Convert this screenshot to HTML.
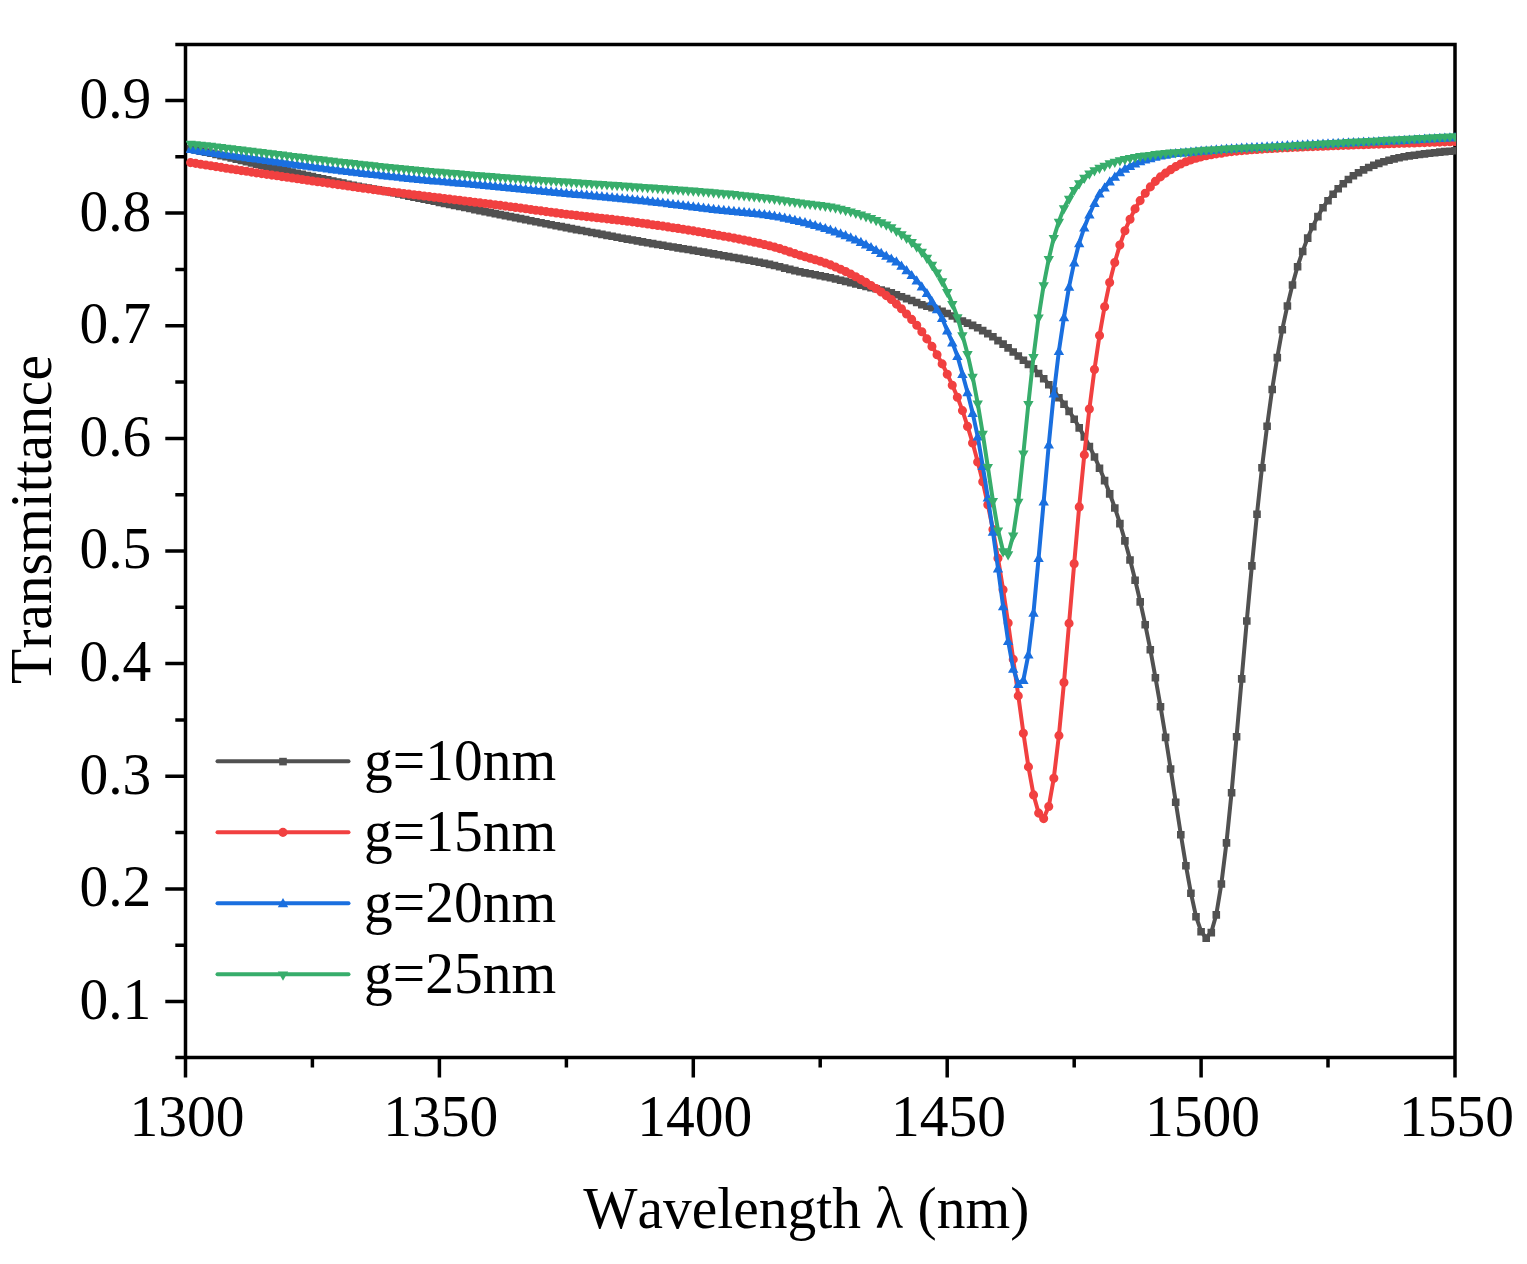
<!DOCTYPE html>
<html lang="en"><head><meta charset="utf-8"><title>Transmittance vs Wavelength</title>
<style>
html,body{margin:0;padding:0;background:#fff}
body{width:1527px;height:1264px;overflow:hidden}
svg{display:block}
text{font-family:"Liberation Serif","Times New Roman",serif;font-size:57.5px;fill:#000;font-kerning:none;font-variant-ligatures:none}
</style></head><body>
<svg width="1527" height="1264" viewBox="0 0 1527 1264">
<rect width="1527" height="1264" fill="#fff"/>
<clipPath id="plot"><rect x="186" y="44.5" width="1270" height="1013"/></clipPath>
<path d="M185.5 42.75V1059.25M1455.0 42.75V1059.25M183.75 44.5H1456.75M183.75 1057.5H1456.75M185.5 1001.5H165.3M185.5 888.9H165.3M185.5 776.2H165.3M185.5 663.6H165.3M185.5 551H165.3M185.5 438.4H165.3M185.5 325.8H165.3M185.5 213.1H165.3M185.5 100.5H165.3M185.5 1057.5H175.3M185.5 945.2H175.3M185.5 832.6H175.3M185.5 719.9H175.3M185.5 607.3H175.3M185.5 494.7H175.3M185.5 382.1H175.3M185.5 269.4H175.3M185.5 156.8H175.3M185.5 44.5H175.3M185.5 1057.5V1077.5M439.4 1057.5V1077.5M693.3 1057.5V1077.5M947.2 1057.5V1077.5M1201.1 1057.5V1077.5M1455 1057.5V1077.5M312.4 1057.5V1067.5M566.4 1057.5V1067.5M820.2 1057.5V1067.5M1074.2 1057.5V1067.5M1328 1057.5V1067.5" fill="none" stroke="#000" stroke-width="3.5"/>
<g text-anchor="end">
<text transform="translate(151.3 1018.9) scale(1 1.02)">0.1</text>
<text transform="translate(151.3 906.3) scale(1 1.02)">0.2</text>
<text transform="translate(151.3 793.6) scale(1 1.02)">0.3</text>
<text transform="translate(151.3 681) scale(1 1.02)">0.4</text>
<text transform="translate(151.3 568.4) scale(1 1.02)">0.5</text>
<text transform="translate(151.3 455.8) scale(1 1.02)">0.6</text>
<text transform="translate(151.3 343.1) scale(1 1.02)">0.7</text>
<text transform="translate(151.3 230.5) scale(1 1.02)">0.8</text>
<text transform="translate(151.3 117.9) scale(1 1.02)">0.9</text>
</g>
<g text-anchor="middle">
<text transform="translate(186.9 1136) scale(1 1.02)">1300</text>
<text transform="translate(440.8 1136) scale(1 1.02)">1350</text>
<text transform="translate(694.7 1136) scale(1 1.02)">1400</text>
<text transform="translate(948.6 1136) scale(1 1.02)">1450</text>
<text transform="translate(1202.5 1136) scale(1 1.02)">1500</text>
<text transform="translate(1456.4 1136) scale(1 1.02)">1550</text>
<text transform="translate(806.3 1227.8) scale(1 1.015)">Wavelength λ (nm)</text>
<text transform="translate(51.3 519.5) rotate(-90) scale(1 1.015)">Transmittance</text>
</g>
<g clip-path="url(#plot)">
<path d="M190.6 148.5L195.7 149.6L200.7 150.7L205.8 151.7L210.9 152.8L216 154L221 155.2L226.1 156.4L231.2 157.6L236.3 158.9L241.4 160.1L246.4 161.3L251.5 162.5L256.6 163.7L261.7 164.8L266.7 166L271.8 167.1L276.9 168.2L282 169.4L287.1 170.5L292.1 171.6L297.2 172.8L302.3 173.9L307.4 175.1L312.4 176.2L317.5 177.3L322.6 178.4L327.7 179.5L332.8 180.6L337.8 181.7L342.9 182.7L348 183.8L353.1 184.8L358.2 185.8L363.2 186.8L368.3 187.7L373.4 188.6L378.5 189.5L383.5 190.4L388.6 191.4L393.7 192.4L398.8 193.5L403.9 194.6L408.9 195.7L414 196.7L419.1 197.8L424.2 198.8L429.2 199.9L434.3 200.9L439.4 202L444.5 203L449.6 204L454.6 205.1L459.7 206.1L464.8 207.1L469.9 208.1L474.9 209.2L480 210.2L485.1 211.2L490.2 212.2L495.3 213.2L500.3 214.2L505.4 215.2L510.5 216.2L515.6 217.2L520.6 218.2L525.7 219.2L530.8 220.3L535.9 221.3L541 222.3L546 223.3L551.1 224.3L556.2 225.3L561.3 226.2L566.4 227.2L571.4 228.2L576.5 229.2L581.6 230.1L586.7 231.1L591.7 232.1L596.8 233L601.9 234L607 235L612.1 235.9L617.1 236.8L622.2 237.8L627.3 238.7L632.4 239.6L637.4 240.5L642.5 241.5L647.6 242.3L652.7 243.2L657.8 244.1L662.8 244.9L667.9 245.8L673 246.6L678.1 247.5L683.1 248.3L688.2 249.1L693.3 250L698.4 250.8L703.5 251.7L708.5 252.6L713.6 253.5L718.7 254.4L723.8 255.3L728.8 256.2L733.9 257.1L739 258L744.1 259L749.2 259.9L754.2 260.9L759.3 261.9L764.4 262.9L769.5 264L774.5 265.1L779.6 266.4L784.7 267.7L789.8 269L794.9 270.2L799.9 271.4L805 272.5L810.1 273.4L815.2 274.4L820.2 275.4L825.3 276.3L830.4 277.4L835.5 278.6L840.6 279.8L845.6 281L850.7 282.3L855.8 283.6L860.9 284.8L866 286.1L871 287.2L876.1 288.4L881.2 289.6L886.3 291L891.3 292.5L896.4 294.4L901.5 296.3L906.6 298.2L911.7 300.1L916.7 302.1L921.8 304.3L926.9 305.9L932 307.4L937 308.9L942.1 310.8L947.2 313.1L952.3 315.6L957.4 318.3L962.4 320.7L967.5 322.7L972.6 325L977.7 327.4L982.7 330.2L987.8 333.2L992.9 336.3L998 340.2L1003.1 343.7L1008.1 347.5L1013.2 351.6L1018.3 355.6L1023.4 359.8L1028.4 364L1033.5 368.4L1038.6 373.1L1043.7 378.4L1048.8 384.4L1053.8 390.6L1058.9 397.3L1064 403.8L1069.1 411L1074.2 418.8L1079.2 427.5L1084.3 436.5L1089.4 446.1L1094.5 456.6L1099.5 467.8L1104.6 480.2L1109.7 493.5L1114.8 507.6L1119.9 523.2L1124.9 540.5L1130 559.6L1135.1 579.8L1140.2 601.5L1145.2 624.4L1150.3 649.4L1155.4 677.4L1160.5 706.4L1165.6 737L1170.6 768.6L1175.7 801.8L1180.8 834.3L1185.9 865.4L1190.9 892.8L1196 916.4L1201.1 931.4L1206.2 937.9L1211.3 932.2L1216.3 914.5L1221.4 883.6L1226.5 842.5L1231.6 792.3L1236.6 736.4L1241.7 678.5L1246.8 620.6L1251.9 565.5L1257 513.9L1262 467.4L1267.1 425.9L1272.2 389.1L1277.3 357.2L1282.3 329.4L1287.4 305.6L1292.5 284.6L1297.6 266.3L1302.7 251.1L1307.7 237.7L1312.8 226.3L1317.9 216.2L1323 207.3L1328 200.3L1333.1 193.8L1338.2 188.3L1343.3 183.4L1348.4 179.1L1353.4 175.4L1358.5 172.3L1363.6 169.5L1368.7 167.1L1373.8 164.9L1378.8 163L1383.9 161.3L1389 159.8L1394.1 158.5L1399.1 157.3L1404.2 156.4L1409.3 155.5L1414.4 154.8L1419.5 154.1L1424.5 153.5L1429.6 152.8L1434.7 152.3L1439.8 151.7L1444.8 151.2L1449.9 150.8L1455 150.4" fill="none" stroke="#515151" stroke-width="4" stroke-linejoin="round"/>
<path d="M186.8 145.1h7.6v7.6h-7.6zM191.9 146.2h7.6v7.6h-7.6zM196.9 147.3h7.6v7.6h-7.6zM202 148.3h7.6v7.6h-7.6zM207.1 149.4h7.6v7.6h-7.6zM212.2 150.6h7.6v7.6h-7.6zM217.2 151.8h7.6v7.6h-7.6zM222.3 153h7.6v7.6h-7.6zM227.4 154.2h7.6v7.6h-7.6zM232.5 155.5h7.6v7.6h-7.6zM237.6 156.7h7.6v7.6h-7.6zM242.6 157.9h7.6v7.6h-7.6zM247.7 159.1h7.6v7.6h-7.6zM252.8 160.3h7.6v7.6h-7.6zM257.9 161.4h7.6v7.6h-7.6zM262.9 162.6h7.6v7.6h-7.6zM268 163.7h7.6v7.6h-7.6zM273.1 164.8h7.6v7.6h-7.6zM278.2 166h7.6v7.6h-7.6zM283.3 167.1h7.6v7.6h-7.6zM288.3 168.2h7.6v7.6h-7.6zM293.4 169.4h7.6v7.6h-7.6zM298.5 170.5h7.6v7.6h-7.6zM303.6 171.7h7.6v7.6h-7.6zM308.6 172.8h7.6v7.6h-7.6zM313.7 173.9h7.6v7.6h-7.6zM318.8 175h7.6v7.6h-7.6zM323.9 176.1h7.6v7.6h-7.6zM329 177.2h7.6v7.6h-7.6zM334 178.3h7.6v7.6h-7.6zM339.1 179.3h7.6v7.6h-7.6zM344.2 180.4h7.6v7.6h-7.6zM349.3 181.4h7.6v7.6h-7.6zM354.4 182.4h7.6v7.6h-7.6zM359.4 183.4h7.6v7.6h-7.6zM364.5 184.3h7.6v7.6h-7.6zM369.6 185.2h7.6v7.6h-7.6zM374.7 186.1h7.6v7.6h-7.6zM379.7 187h7.6v7.6h-7.6zM384.8 188h7.6v7.6h-7.6zM389.9 189h7.6v7.6h-7.6zM395 190.1h7.6v7.6h-7.6zM400.1 191.2h7.6v7.6h-7.6zM405.1 192.3h7.6v7.6h-7.6zM410.2 193.3h7.6v7.6h-7.6zM415.3 194.4h7.6v7.6h-7.6zM420.4 195.4h7.6v7.6h-7.6zM425.4 196.5h7.6v7.6h-7.6zM430.5 197.5h7.6v7.6h-7.6zM435.6 198.6h7.6v7.6h-7.6zM440.7 199.6h7.6v7.6h-7.6zM445.8 200.6h7.6v7.6h-7.6zM450.8 201.7h7.6v7.6h-7.6zM455.9 202.7h7.6v7.6h-7.6zM461 203.7h7.6v7.6h-7.6zM466.1 204.7h7.6v7.6h-7.6zM471.1 205.8h7.6v7.6h-7.6zM476.2 206.8h7.6v7.6h-7.6zM481.3 207.8h7.6v7.6h-7.6zM486.4 208.8h7.6v7.6h-7.6zM491.5 209.8h7.6v7.6h-7.6zM496.5 210.8h7.6v7.6h-7.6zM501.6 211.8h7.6v7.6h-7.6zM506.7 212.8h7.6v7.6h-7.6zM511.8 213.8h7.6v7.6h-7.6zM516.8 214.8h7.6v7.6h-7.6zM521.9 215.8h7.6v7.6h-7.6zM527 216.9h7.6v7.6h-7.6zM532.1 217.9h7.6v7.6h-7.6zM537.2 218.9h7.6v7.6h-7.6zM542.2 219.9h7.6v7.6h-7.6zM547.3 220.9h7.6v7.6h-7.6zM552.4 221.9h7.6v7.6h-7.6zM557.5 222.8h7.6v7.6h-7.6zM562.6 223.8h7.6v7.6h-7.6zM567.6 224.8h7.6v7.6h-7.6zM572.7 225.8h7.6v7.6h-7.6zM577.8 226.7h7.6v7.6h-7.6zM582.9 227.7h7.6v7.6h-7.6zM587.9 228.7h7.6v7.6h-7.6zM593 229.6h7.6v7.6h-7.6zM598.1 230.6h7.6v7.6h-7.6zM603.2 231.6h7.6v7.6h-7.6zM608.3 232.5h7.6v7.6h-7.6zM613.3 233.4h7.6v7.6h-7.6zM618.4 234.4h7.6v7.6h-7.6zM623.5 235.3h7.6v7.6h-7.6zM628.6 236.2h7.6v7.6h-7.6zM633.6 237.1h7.6v7.6h-7.6zM638.7 238.1h7.6v7.6h-7.6zM643.8 238.9h7.6v7.6h-7.6zM648.9 239.8h7.6v7.6h-7.6zM654 240.7h7.6v7.6h-7.6zM659 241.5h7.6v7.6h-7.6zM664.1 242.4h7.6v7.6h-7.6zM669.2 243.2h7.6v7.6h-7.6zM674.3 244.1h7.6v7.6h-7.6zM679.3 244.9h7.6v7.6h-7.6zM684.4 245.7h7.6v7.6h-7.6zM689.5 246.6h7.6v7.6h-7.6zM694.6 247.4h7.6v7.6h-7.6zM699.7 248.3h7.6v7.6h-7.6zM704.7 249.2h7.6v7.6h-7.6zM709.8 250.1h7.6v7.6h-7.6zM714.9 251h7.6v7.6h-7.6zM720 251.9h7.6v7.6h-7.6zM725 252.8h7.6v7.6h-7.6zM730.1 253.7h7.6v7.6h-7.6zM735.2 254.6h7.6v7.6h-7.6zM740.3 255.6h7.6v7.6h-7.6zM745.4 256.5h7.6v7.6h-7.6zM750.4 257.5h7.6v7.6h-7.6zM755.5 258.5h7.6v7.6h-7.6zM760.6 259.5h7.6v7.6h-7.6zM765.7 260.6h7.6v7.6h-7.6zM770.7 261.7h7.6v7.6h-7.6zM775.8 263h7.6v7.6h-7.6zM780.9 264.3h7.6v7.6h-7.6zM786 265.6h7.6v7.6h-7.6zM791.1 266.8h7.6v7.6h-7.6zM796.1 268h7.6v7.6h-7.6zM801.2 269.1h7.6v7.6h-7.6zM806.3 270h7.6v7.6h-7.6zM811.4 271h7.6v7.6h-7.6zM816.5 272h7.6v7.6h-7.6zM821.5 272.9h7.6v7.6h-7.6zM826.6 274h7.6v7.6h-7.6zM831.7 275.2h7.6v7.6h-7.6zM836.8 276.4h7.6v7.6h-7.6zM841.8 277.6h7.6v7.6h-7.6zM846.9 278.9h7.6v7.6h-7.6zM852 280.2h7.6v7.6h-7.6zM857.1 281.4h7.6v7.6h-7.6zM862.2 282.7h7.6v7.6h-7.6zM867.2 283.8h7.6v7.6h-7.6zM872.3 285h7.6v7.6h-7.6zM877.4 286.2h7.6v7.6h-7.6zM882.5 287.6h7.6v7.6h-7.6zM887.5 289.1h7.6v7.6h-7.6zM892.6 291h7.6v7.6h-7.6zM897.7 292.9h7.6v7.6h-7.6zM902.8 294.8h7.6v7.6h-7.6zM907.9 296.7h7.6v7.6h-7.6zM912.9 298.7h7.6v7.6h-7.6zM918 300.9h7.6v7.6h-7.6zM923.1 302.5h7.6v7.6h-7.6zM928.2 304h7.6v7.6h-7.6zM933.2 305.5h7.6v7.6h-7.6zM938.3 307.4h7.6v7.6h-7.6zM943.4 309.7h7.6v7.6h-7.6zM948.5 312.2h7.6v7.6h-7.6zM953.6 314.9h7.6v7.6h-7.6zM958.6 317.3h7.6v7.6h-7.6zM963.7 319.3h7.6v7.6h-7.6zM968.8 321.6h7.6v7.6h-7.6zM973.9 324h7.6v7.6h-7.6zM978.9 326.8h7.6v7.6h-7.6zM984 329.8h7.6v7.6h-7.6zM989.1 332.9h7.6v7.6h-7.6zM994.2 336.8h7.6v7.6h-7.6zM999.3 340.3h7.6v7.6h-7.6zM1004.3 344.1h7.6v7.6h-7.6zM1009.4 348.2h7.6v7.6h-7.6zM1014.5 352.2h7.6v7.6h-7.6zM1019.6 356.4h7.6v7.6h-7.6zM1024.6 360.6h7.6v7.6h-7.6zM1029.7 365h7.6v7.6h-7.6zM1034.8 369.7h7.6v7.6h-7.6zM1039.9 375h7.6v7.6h-7.6zM1045 381h7.6v7.6h-7.6zM1050 387.2h7.6v7.6h-7.6zM1055.1 393.9h7.6v7.6h-7.6zM1060.2 400.4h7.6v7.6h-7.6zM1065.3 407.6h7.6v7.6h-7.6zM1070.4 415.4h7.6v7.6h-7.6zM1075.4 424.1h7.6v7.6h-7.6zM1080.5 433.1h7.6v7.6h-7.6zM1085.6 442.7h7.6v7.6h-7.6zM1090.7 453.2h7.6v7.6h-7.6zM1095.7 464.4h7.6v7.6h-7.6zM1100.8 476.8h7.6v7.6h-7.6zM1105.9 490.1h7.6v7.6h-7.6zM1111 504.2h7.6v7.6h-7.6zM1116.1 519.8h7.6v7.6h-7.6zM1121.1 537.1h7.6v7.6h-7.6zM1126.2 556.2h7.6v7.6h-7.6zM1131.3 576.4h7.6v7.6h-7.6zM1136.4 598.1h7.6v7.6h-7.6zM1141.4 621h7.6v7.6h-7.6zM1146.5 646h7.6v7.6h-7.6zM1151.6 674h7.6v7.6h-7.6zM1156.7 703h7.6v7.6h-7.6zM1161.8 733.6h7.6v7.6h-7.6zM1166.8 765.2h7.6v7.6h-7.6zM1171.9 798.4h7.6v7.6h-7.6zM1177 830.9h7.6v7.6h-7.6zM1182.1 862h7.6v7.6h-7.6zM1187.1 889.4h7.6v7.6h-7.6zM1192.2 913h7.6v7.6h-7.6zM1197.3 928h7.6v7.6h-7.6zM1202.4 934.5h7.6v7.6h-7.6zM1207.5 928.8h7.6v7.6h-7.6zM1212.5 911.1h7.6v7.6h-7.6zM1217.6 880.2h7.6v7.6h-7.6zM1222.7 839.1h7.6v7.6h-7.6zM1227.8 788.9h7.6v7.6h-7.6zM1232.8 733h7.6v7.6h-7.6zM1237.9 675.1h7.6v7.6h-7.6zM1243 617.2h7.6v7.6h-7.6zM1248.1 562.1h7.6v7.6h-7.6zM1253.2 510.5h7.6v7.6h-7.6zM1258.2 464h7.6v7.6h-7.6zM1263.3 422.5h7.6v7.6h-7.6zM1268.4 385.7h7.6v7.6h-7.6zM1273.5 353.8h7.6v7.6h-7.6zM1278.5 326h7.6v7.6h-7.6zM1283.6 302.2h7.6v7.6h-7.6zM1288.7 281.2h7.6v7.6h-7.6zM1293.8 262.9h7.6v7.6h-7.6zM1298.9 247.7h7.6v7.6h-7.6zM1303.9 234.3h7.6v7.6h-7.6zM1309 222.9h7.6v7.6h-7.6zM1314.1 212.8h7.6v7.6h-7.6zM1319.2 203.9h7.6v7.6h-7.6zM1324.2 196.9h7.6v7.6h-7.6zM1329.3 190.4h7.6v7.6h-7.6zM1334.4 184.9h7.6v7.6h-7.6zM1339.5 180h7.6v7.6h-7.6zM1344.6 175.7h7.6v7.6h-7.6zM1349.6 172h7.6v7.6h-7.6zM1354.7 168.9h7.6v7.6h-7.6zM1359.8 166.1h7.6v7.6h-7.6zM1364.9 163.7h7.6v7.6h-7.6zM1370 161.5h7.6v7.6h-7.6zM1375 159.6h7.6v7.6h-7.6zM1380.1 157.9h7.6v7.6h-7.6zM1385.2 156.4h7.6v7.6h-7.6zM1390.3 155.1h7.6v7.6h-7.6zM1395.3 153.9h7.6v7.6h-7.6zM1400.4 153h7.6v7.6h-7.6zM1405.5 152.1h7.6v7.6h-7.6zM1410.6 151.4h7.6v7.6h-7.6zM1415.7 150.7h7.6v7.6h-7.6zM1420.7 150.1h7.6v7.6h-7.6zM1425.8 149.4h7.6v7.6h-7.6zM1430.9 148.9h7.6v7.6h-7.6zM1436 148.3h7.6v7.6h-7.6zM1441 147.8h7.6v7.6h-7.6zM1446.1 147.4h7.6v7.6h-7.6zM1451.2 147h7.6v7.6h-7.6z" fill="#515151"/>
<path d="M190.6 162.4L195.7 163.2L200.7 164L205.8 164.8L210.9 165.6L216 166.4L221 167.2L226.1 168L231.2 168.8L236.3 169.6L241.4 170.4L246.4 171.1L251.5 171.9L256.6 172.7L261.7 173.4L266.7 174.2L271.8 174.9L276.9 175.6L282 176.4L287.1 177.1L292.1 177.8L297.2 178.6L302.3 179.3L307.4 180L312.4 180.8L317.5 181.5L322.6 182.2L327.7 182.9L332.8 183.7L337.8 184.4L342.9 185.1L348 185.8L353.1 186.6L358.2 187.3L363.2 188L368.3 188.7L373.4 189.4L378.5 190.1L383.5 190.8L388.6 191.4L393.7 192L398.8 192.6L403.9 193.3L408.9 193.9L414 194.5L419.1 195.1L424.2 195.8L429.2 196.4L434.3 197L439.4 197.6L444.5 198.3L449.6 198.9L454.6 199.5L459.7 200.1L464.8 200.8L469.9 201.4L474.9 202L480 202.7L485.1 203.3L490.2 203.9L495.3 204.6L500.3 205.2L505.4 205.9L510.5 206.5L515.6 207.2L520.6 207.9L525.7 208.6L530.8 209.3L535.9 210L541 210.7L546 211.4L551.1 212L556.2 212.7L561.3 213.4L566.4 214L571.4 214.6L576.5 215.2L581.6 215.8L586.7 216.4L591.7 216.9L596.8 217.5L601.9 218.1L607 218.7L612.1 219.2L617.1 219.8L622.2 220.4L627.3 221.1L632.4 221.7L637.4 222.4L642.5 223L647.6 223.7L652.7 224.5L657.8 225.2L662.8 225.9L667.9 226.7L673 227.5L678.1 228.2L683.1 229L688.2 229.9L693.3 230.7L698.4 231.5L703.5 232.4L708.5 233.3L713.6 234.2L718.7 235.1L723.8 236L728.8 236.9L733.9 237.9L739 238.9L744.1 239.9L749.2 240.9L754.2 242L759.3 243.1L764.4 244.3L769.5 245.6L774.5 246.9L779.6 248.4L784.7 250L789.8 251.7L794.9 253.4L799.9 255L805 256.6L810.1 258.1L815.2 259.6L820.2 261.1L825.3 262.8L830.4 264.7L835.5 266.8L840.6 269L845.6 271.4L850.7 273.9L855.8 276.6L860.9 279.4L866 282.2L871 285.3L876.1 288.4L881.2 291.8L886.3 295.4L891.3 299.3L896.4 303.9L901.5 308.6L906.6 313.8L911.7 319.2L916.7 325L921.8 331.5L926.9 338.7L932 346.2L937 354.5L942.1 363.7L947.2 374L952.3 385.1L957.4 397L962.4 410.4L967.5 426.2L972.6 442.8L977.7 461.8L982.7 481.6L987.8 504.6L992.9 529.3L998 558L1003.1 589.6L1008.1 622.8L1013.2 659.2L1018.3 695.7L1023.4 733L1028.4 766.7L1033.5 794.7L1038.6 812.9L1043.7 818.4L1048.8 806.3L1053.8 778.1L1058.9 735.4L1064 682.3L1069.1 623.2L1074.2 563.5L1079.2 506.7L1084.3 454.7L1089.4 408.8L1094.5 369.3L1099.5 335.4L1104.6 306.6L1109.7 282.3L1114.8 262.3L1119.9 244.9L1124.9 230.6L1130 219.1L1135.1 208.7L1140.2 200.4L1145.2 193L1150.3 186.7L1155.4 181.2L1160.5 176.7L1165.6 172.9L1170.6 169.5L1175.7 166.4L1180.8 163.8L1185.9 161.5L1190.9 159.6L1196 158L1201.1 156.7L1206.2 155.5L1211.3 154.6L1216.3 153.7L1221.4 153L1226.5 152.1L1231.6 151.4L1236.6 150.9L1241.7 150.4L1246.8 150L1251.9 149.6L1257 149.2L1262 148.9L1267.1 148.6L1272.2 148.3L1277.3 148L1282.3 147.7L1287.4 147.5L1292.5 147.2L1297.6 147L1302.7 146.8L1307.7 146.6L1312.8 146.4L1317.9 146.2L1323 146L1328 145.8L1333.1 145.6L1338.2 145.4L1343.3 145.2L1348.4 145L1353.4 144.8L1358.5 144.6L1363.6 144.5L1368.7 144.3L1373.8 144.1L1378.8 143.9L1383.9 143.8L1389 143.6L1394.1 143.4L1399.1 143.2L1404.2 143.1L1409.3 142.9L1414.4 142.7L1419.5 142.5L1424.5 142.4L1429.6 142.2L1434.7 142L1439.8 141.9L1444.8 141.7L1449.9 141.6L1455 141.4" fill="none" stroke="#F14040" stroke-width="4" stroke-linejoin="round"/>
<path d="M186 162.6a4.55 4.55 0 1 0 9.1 0a4.55 4.55 0 1 0 -9.1 0zM191.1 163.4a4.55 4.55 0 1 0 9.1 0a4.55 4.55 0 1 0 -9.1 0zM196.2 164.2a4.55 4.55 0 1 0 9.1 0a4.55 4.55 0 1 0 -9.1 0zM201.3 165a4.55 4.55 0 1 0 9.1 0a4.55 4.55 0 1 0 -9.1 0zM206.3 165.8a4.55 4.55 0 1 0 9.1 0a4.55 4.55 0 1 0 -9.1 0zM211.4 166.6a4.55 4.55 0 1 0 9.1 0a4.55 4.55 0 1 0 -9.1 0zM216.5 167.4a4.55 4.55 0 1 0 9.1 0a4.55 4.55 0 1 0 -9.1 0zM221.6 168.2a4.55 4.55 0 1 0 9.1 0a4.55 4.55 0 1 0 -9.1 0zM226.7 169a4.55 4.55 0 1 0 9.1 0a4.55 4.55 0 1 0 -9.1 0zM231.7 169.8a4.55 4.55 0 1 0 9.1 0a4.55 4.55 0 1 0 -9.1 0zM236.8 170.6a4.55 4.55 0 1 0 9.1 0a4.55 4.55 0 1 0 -9.1 0zM241.9 171.3a4.55 4.55 0 1 0 9.1 0a4.55 4.55 0 1 0 -9.1 0zM247 172.1a4.55 4.55 0 1 0 9.1 0a4.55 4.55 0 1 0 -9.1 0zM252 172.9a4.55 4.55 0 1 0 9.1 0a4.55 4.55 0 1 0 -9.1 0zM257.1 173.6a4.55 4.55 0 1 0 9.1 0a4.55 4.55 0 1 0 -9.1 0zM262.2 174.4a4.55 4.55 0 1 0 9.1 0a4.55 4.55 0 1 0 -9.1 0zM267.3 175.1a4.55 4.55 0 1 0 9.1 0a4.55 4.55 0 1 0 -9.1 0zM272.4 175.8a4.55 4.55 0 1 0 9.1 0a4.55 4.55 0 1 0 -9.1 0zM277.4 176.6a4.55 4.55 0 1 0 9.1 0a4.55 4.55 0 1 0 -9.1 0zM282.5 177.3a4.55 4.55 0 1 0 9.1 0a4.55 4.55 0 1 0 -9.1 0zM287.6 178a4.55 4.55 0 1 0 9.1 0a4.55 4.55 0 1 0 -9.1 0zM292.7 178.8a4.55 4.55 0 1 0 9.1 0a4.55 4.55 0 1 0 -9.1 0zM297.7 179.5a4.55 4.55 0 1 0 9.1 0a4.55 4.55 0 1 0 -9.1 0zM302.8 180.2a4.55 4.55 0 1 0 9.1 0a4.55 4.55 0 1 0 -9.1 0zM307.9 181a4.55 4.55 0 1 0 9.1 0a4.55 4.55 0 1 0 -9.1 0zM313 181.7a4.55 4.55 0 1 0 9.1 0a4.55 4.55 0 1 0 -9.1 0zM318.1 182.4a4.55 4.55 0 1 0 9.1 0a4.55 4.55 0 1 0 -9.1 0zM323.1 183.1a4.55 4.55 0 1 0 9.1 0a4.55 4.55 0 1 0 -9.1 0zM328.2 183.9a4.55 4.55 0 1 0 9.1 0a4.55 4.55 0 1 0 -9.1 0zM333.3 184.6a4.55 4.55 0 1 0 9.1 0a4.55 4.55 0 1 0 -9.1 0zM338.4 185.3a4.55 4.55 0 1 0 9.1 0a4.55 4.55 0 1 0 -9.1 0zM343.4 186a4.55 4.55 0 1 0 9.1 0a4.55 4.55 0 1 0 -9.1 0zM348.5 186.8a4.55 4.55 0 1 0 9.1 0a4.55 4.55 0 1 0 -9.1 0zM353.6 187.5a4.55 4.55 0 1 0 9.1 0a4.55 4.55 0 1 0 -9.1 0zM358.7 188.2a4.55 4.55 0 1 0 9.1 0a4.55 4.55 0 1 0 -9.1 0zM363.8 188.9a4.55 4.55 0 1 0 9.1 0a4.55 4.55 0 1 0 -9.1 0zM368.8 189.6a4.55 4.55 0 1 0 9.1 0a4.55 4.55 0 1 0 -9.1 0zM373.9 190.3a4.55 4.55 0 1 0 9.1 0a4.55 4.55 0 1 0 -9.1 0zM379 191a4.55 4.55 0 1 0 9.1 0a4.55 4.55 0 1 0 -9.1 0zM384.1 191.6a4.55 4.55 0 1 0 9.1 0a4.55 4.55 0 1 0 -9.1 0zM389.1 192.2a4.55 4.55 0 1 0 9.1 0a4.55 4.55 0 1 0 -9.1 0zM394.2 192.8a4.55 4.55 0 1 0 9.1 0a4.55 4.55 0 1 0 -9.1 0zM399.3 193.5a4.55 4.55 0 1 0 9.1 0a4.55 4.55 0 1 0 -9.1 0zM404.4 194.1a4.55 4.55 0 1 0 9.1 0a4.55 4.55 0 1 0 -9.1 0zM409.5 194.7a4.55 4.55 0 1 0 9.1 0a4.55 4.55 0 1 0 -9.1 0zM414.5 195.3a4.55 4.55 0 1 0 9.1 0a4.55 4.55 0 1 0 -9.1 0zM419.6 196a4.55 4.55 0 1 0 9.1 0a4.55 4.55 0 1 0 -9.1 0zM424.7 196.6a4.55 4.55 0 1 0 9.1 0a4.55 4.55 0 1 0 -9.1 0zM429.8 197.2a4.55 4.55 0 1 0 9.1 0a4.55 4.55 0 1 0 -9.1 0zM434.8 197.8a4.55 4.55 0 1 0 9.1 0a4.55 4.55 0 1 0 -9.1 0zM439.9 198.5a4.55 4.55 0 1 0 9.1 0a4.55 4.55 0 1 0 -9.1 0zM445 199.1a4.55 4.55 0 1 0 9.1 0a4.55 4.55 0 1 0 -9.1 0zM450.1 199.7a4.55 4.55 0 1 0 9.1 0a4.55 4.55 0 1 0 -9.1 0zM455.2 200.3a4.55 4.55 0 1 0 9.1 0a4.55 4.55 0 1 0 -9.1 0zM460.2 201a4.55 4.55 0 1 0 9.1 0a4.55 4.55 0 1 0 -9.1 0zM465.3 201.6a4.55 4.55 0 1 0 9.1 0a4.55 4.55 0 1 0 -9.1 0zM470.4 202.2a4.55 4.55 0 1 0 9.1 0a4.55 4.55 0 1 0 -9.1 0zM475.5 202.9a4.55 4.55 0 1 0 9.1 0a4.55 4.55 0 1 0 -9.1 0zM480.6 203.5a4.55 4.55 0 1 0 9.1 0a4.55 4.55 0 1 0 -9.1 0zM485.6 204.1a4.55 4.55 0 1 0 9.1 0a4.55 4.55 0 1 0 -9.1 0zM490.7 204.8a4.55 4.55 0 1 0 9.1 0a4.55 4.55 0 1 0 -9.1 0zM495.8 205.4a4.55 4.55 0 1 0 9.1 0a4.55 4.55 0 1 0 -9.1 0zM500.9 206.1a4.55 4.55 0 1 0 9.1 0a4.55 4.55 0 1 0 -9.1 0zM505.9 206.7a4.55 4.55 0 1 0 9.1 0a4.55 4.55 0 1 0 -9.1 0zM511 207.4a4.55 4.55 0 1 0 9.1 0a4.55 4.55 0 1 0 -9.1 0zM516.1 208.1a4.55 4.55 0 1 0 9.1 0a4.55 4.55 0 1 0 -9.1 0zM521.2 208.8a4.55 4.55 0 1 0 9.1 0a4.55 4.55 0 1 0 -9.1 0zM526.3 209.5a4.55 4.55 0 1 0 9.1 0a4.55 4.55 0 1 0 -9.1 0zM531.3 210.2a4.55 4.55 0 1 0 9.1 0a4.55 4.55 0 1 0 -9.1 0zM536.4 210.9a4.55 4.55 0 1 0 9.1 0a4.55 4.55 0 1 0 -9.1 0zM541.5 211.6a4.55 4.55 0 1 0 9.1 0a4.55 4.55 0 1 0 -9.1 0zM546.6 212.2a4.55 4.55 0 1 0 9.1 0a4.55 4.55 0 1 0 -9.1 0zM551.6 212.9a4.55 4.55 0 1 0 9.1 0a4.55 4.55 0 1 0 -9.1 0zM556.7 213.6a4.55 4.55 0 1 0 9.1 0a4.55 4.55 0 1 0 -9.1 0zM561.8 214.2a4.55 4.55 0 1 0 9.1 0a4.55 4.55 0 1 0 -9.1 0zM566.9 214.8a4.55 4.55 0 1 0 9.1 0a4.55 4.55 0 1 0 -9.1 0zM572 215.4a4.55 4.55 0 1 0 9.1 0a4.55 4.55 0 1 0 -9.1 0zM577 216a4.55 4.55 0 1 0 9.1 0a4.55 4.55 0 1 0 -9.1 0zM582.1 216.6a4.55 4.55 0 1 0 9.1 0a4.55 4.55 0 1 0 -9.1 0zM587.2 217.1a4.55 4.55 0 1 0 9.1 0a4.55 4.55 0 1 0 -9.1 0zM592.3 217.7a4.55 4.55 0 1 0 9.1 0a4.55 4.55 0 1 0 -9.1 0zM597.3 218.3a4.55 4.55 0 1 0 9.1 0a4.55 4.55 0 1 0 -9.1 0zM602.4 218.9a4.55 4.55 0 1 0 9.1 0a4.55 4.55 0 1 0 -9.1 0zM607.5 219.4a4.55 4.55 0 1 0 9.1 0a4.55 4.55 0 1 0 -9.1 0zM612.6 220a4.55 4.55 0 1 0 9.1 0a4.55 4.55 0 1 0 -9.1 0zM617.7 220.6a4.55 4.55 0 1 0 9.1 0a4.55 4.55 0 1 0 -9.1 0zM622.7 221.3a4.55 4.55 0 1 0 9.1 0a4.55 4.55 0 1 0 -9.1 0zM627.8 221.9a4.55 4.55 0 1 0 9.1 0a4.55 4.55 0 1 0 -9.1 0zM632.9 222.6a4.55 4.55 0 1 0 9.1 0a4.55 4.55 0 1 0 -9.1 0zM638 223.2a4.55 4.55 0 1 0 9.1 0a4.55 4.55 0 1 0 -9.1 0zM643 223.9a4.55 4.55 0 1 0 9.1 0a4.55 4.55 0 1 0 -9.1 0zM648.1 224.7a4.55 4.55 0 1 0 9.1 0a4.55 4.55 0 1 0 -9.1 0zM653.2 225.4a4.55 4.55 0 1 0 9.1 0a4.55 4.55 0 1 0 -9.1 0zM658.3 226.1a4.55 4.55 0 1 0 9.1 0a4.55 4.55 0 1 0 -9.1 0zM663.4 226.9a4.55 4.55 0 1 0 9.1 0a4.55 4.55 0 1 0 -9.1 0zM668.4 227.7a4.55 4.55 0 1 0 9.1 0a4.55 4.55 0 1 0 -9.1 0zM673.5 228.4a4.55 4.55 0 1 0 9.1 0a4.55 4.55 0 1 0 -9.1 0zM678.6 229.2a4.55 4.55 0 1 0 9.1 0a4.55 4.55 0 1 0 -9.1 0zM683.7 230.1a4.55 4.55 0 1 0 9.1 0a4.55 4.55 0 1 0 -9.1 0zM688.8 230.9a4.55 4.55 0 1 0 9.1 0a4.55 4.55 0 1 0 -9.1 0zM693.8 231.7a4.55 4.55 0 1 0 9.1 0a4.55 4.55 0 1 0 -9.1 0zM698.9 232.6a4.55 4.55 0 1 0 9.1 0a4.55 4.55 0 1 0 -9.1 0zM704 233.5a4.55 4.55 0 1 0 9.1 0a4.55 4.55 0 1 0 -9.1 0zM709.1 234.4a4.55 4.55 0 1 0 9.1 0a4.55 4.55 0 1 0 -9.1 0zM714.1 235.3a4.55 4.55 0 1 0 9.1 0a4.55 4.55 0 1 0 -9.1 0zM719.2 236.2a4.55 4.55 0 1 0 9.1 0a4.55 4.55 0 1 0 -9.1 0zM724.3 237.1a4.55 4.55 0 1 0 9.1 0a4.55 4.55 0 1 0 -9.1 0zM729.4 238.1a4.55 4.55 0 1 0 9.1 0a4.55 4.55 0 1 0 -9.1 0zM734.5 239.1a4.55 4.55 0 1 0 9.1 0a4.55 4.55 0 1 0 -9.1 0zM739.5 240.1a4.55 4.55 0 1 0 9.1 0a4.55 4.55 0 1 0 -9.1 0zM744.6 241.1a4.55 4.55 0 1 0 9.1 0a4.55 4.55 0 1 0 -9.1 0zM749.7 242.2a4.55 4.55 0 1 0 9.1 0a4.55 4.55 0 1 0 -9.1 0zM754.8 243.3a4.55 4.55 0 1 0 9.1 0a4.55 4.55 0 1 0 -9.1 0zM759.8 244.5a4.55 4.55 0 1 0 9.1 0a4.55 4.55 0 1 0 -9.1 0zM764.9 245.8a4.55 4.55 0 1 0 9.1 0a4.55 4.55 0 1 0 -9.1 0zM770 247.1a4.55 4.55 0 1 0 9.1 0a4.55 4.55 0 1 0 -9.1 0zM775.1 248.6a4.55 4.55 0 1 0 9.1 0a4.55 4.55 0 1 0 -9.1 0zM780.2 250.2a4.55 4.55 0 1 0 9.1 0a4.55 4.55 0 1 0 -9.1 0zM785.2 251.9a4.55 4.55 0 1 0 9.1 0a4.55 4.55 0 1 0 -9.1 0zM790.3 253.6a4.55 4.55 0 1 0 9.1 0a4.55 4.55 0 1 0 -9.1 0zM795.4 255.2a4.55 4.55 0 1 0 9.1 0a4.55 4.55 0 1 0 -9.1 0zM800.5 256.8a4.55 4.55 0 1 0 9.1 0a4.55 4.55 0 1 0 -9.1 0zM805.5 258.3a4.55 4.55 0 1 0 9.1 0a4.55 4.55 0 1 0 -9.1 0zM810.6 259.8a4.55 4.55 0 1 0 9.1 0a4.55 4.55 0 1 0 -9.1 0zM815.7 261.3a4.55 4.55 0 1 0 9.1 0a4.55 4.55 0 1 0 -9.1 0zM820.8 263a4.55 4.55 0 1 0 9.1 0a4.55 4.55 0 1 0 -9.1 0zM825.9 264.9a4.55 4.55 0 1 0 9.1 0a4.55 4.55 0 1 0 -9.1 0zM830.9 267a4.55 4.55 0 1 0 9.1 0a4.55 4.55 0 1 0 -9.1 0zM836 269.2a4.55 4.55 0 1 0 9.1 0a4.55 4.55 0 1 0 -9.1 0zM841.1 271.6a4.55 4.55 0 1 0 9.1 0a4.55 4.55 0 1 0 -9.1 0zM846.2 274.1a4.55 4.55 0 1 0 9.1 0a4.55 4.55 0 1 0 -9.1 0zM851.2 276.8a4.55 4.55 0 1 0 9.1 0a4.55 4.55 0 1 0 -9.1 0zM856.3 279.6a4.55 4.55 0 1 0 9.1 0a4.55 4.55 0 1 0 -9.1 0zM861.4 282.4a4.55 4.55 0 1 0 9.1 0a4.55 4.55 0 1 0 -9.1 0zM866.5 285.5a4.55 4.55 0 1 0 9.1 0a4.55 4.55 0 1 0 -9.1 0zM871.6 288.6a4.55 4.55 0 1 0 9.1 0a4.55 4.55 0 1 0 -9.1 0zM876.6 292a4.55 4.55 0 1 0 9.1 0a4.55 4.55 0 1 0 -9.1 0zM881.7 295.6a4.55 4.55 0 1 0 9.1 0a4.55 4.55 0 1 0 -9.1 0zM886.8 299.5a4.55 4.55 0 1 0 9.1 0a4.55 4.55 0 1 0 -9.1 0zM891.9 304.1a4.55 4.55 0 1 0 9.1 0a4.55 4.55 0 1 0 -9.1 0zM896.9 308.8a4.55 4.55 0 1 0 9.1 0a4.55 4.55 0 1 0 -9.1 0zM902 314a4.55 4.55 0 1 0 9.1 0a4.55 4.55 0 1 0 -9.1 0zM907.1 319.4a4.55 4.55 0 1 0 9.1 0a4.55 4.55 0 1 0 -9.1 0zM912.2 325.2a4.55 4.55 0 1 0 9.1 0a4.55 4.55 0 1 0 -9.1 0zM917.3 331.7a4.55 4.55 0 1 0 9.1 0a4.55 4.55 0 1 0 -9.1 0zM922.3 338.9a4.55 4.55 0 1 0 9.1 0a4.55 4.55 0 1 0 -9.1 0zM927.4 346.4a4.55 4.55 0 1 0 9.1 0a4.55 4.55 0 1 0 -9.1 0zM932.5 354.7a4.55 4.55 0 1 0 9.1 0a4.55 4.55 0 1 0 -9.1 0zM937.6 363.9a4.55 4.55 0 1 0 9.1 0a4.55 4.55 0 1 0 -9.1 0zM942.7 374.2a4.55 4.55 0 1 0 9.1 0a4.55 4.55 0 1 0 -9.1 0zM947.7 385.3a4.55 4.55 0 1 0 9.1 0a4.55 4.55 0 1 0 -9.1 0zM952.8 397.2a4.55 4.55 0 1 0 9.1 0a4.55 4.55 0 1 0 -9.1 0zM957.9 410.6a4.55 4.55 0 1 0 9.1 0a4.55 4.55 0 1 0 -9.1 0zM963 426.4a4.55 4.55 0 1 0 9.1 0a4.55 4.55 0 1 0 -9.1 0zM968 443a4.55 4.55 0 1 0 9.1 0a4.55 4.55 0 1 0 -9.1 0zM973.1 462a4.55 4.55 0 1 0 9.1 0a4.55 4.55 0 1 0 -9.1 0zM978.2 481.8a4.55 4.55 0 1 0 9.1 0a4.55 4.55 0 1 0 -9.1 0zM983.3 504.8a4.55 4.55 0 1 0 9.1 0a4.55 4.55 0 1 0 -9.1 0zM988.4 529.5a4.55 4.55 0 1 0 9.1 0a4.55 4.55 0 1 0 -9.1 0zM993.4 558.2a4.55 4.55 0 1 0 9.1 0a4.55 4.55 0 1 0 -9.1 0zM998.5 589.8a4.55 4.55 0 1 0 9.1 0a4.55 4.55 0 1 0 -9.1 0zM1003.6 623a4.55 4.55 0 1 0 9.1 0a4.55 4.55 0 1 0 -9.1 0zM1008.7 659.4a4.55 4.55 0 1 0 9.1 0a4.55 4.55 0 1 0 -9.1 0zM1013.7 695.9a4.55 4.55 0 1 0 9.1 0a4.55 4.55 0 1 0 -9.1 0zM1018.8 733.2a4.55 4.55 0 1 0 9.1 0a4.55 4.55 0 1 0 -9.1 0zM1023.9 766.9a4.55 4.55 0 1 0 9.1 0a4.55 4.55 0 1 0 -9.1 0zM1029 794.9a4.55 4.55 0 1 0 9.1 0a4.55 4.55 0 1 0 -9.1 0zM1034.1 813.1a4.55 4.55 0 1 0 9.1 0a4.55 4.55 0 1 0 -9.1 0zM1039.1 818.6a4.55 4.55 0 1 0 9.1 0a4.55 4.55 0 1 0 -9.1 0zM1044.2 806.5a4.55 4.55 0 1 0 9.1 0a4.55 4.55 0 1 0 -9.1 0zM1049.3 778.3a4.55 4.55 0 1 0 9.1 0a4.55 4.55 0 1 0 -9.1 0zM1054.4 735.6a4.55 4.55 0 1 0 9.1 0a4.55 4.55 0 1 0 -9.1 0zM1059.4 682.5a4.55 4.55 0 1 0 9.1 0a4.55 4.55 0 1 0 -9.1 0zM1064.5 623.4a4.55 4.55 0 1 0 9.1 0a4.55 4.55 0 1 0 -9.1 0zM1069.6 563.7a4.55 4.55 0 1 0 9.1 0a4.55 4.55 0 1 0 -9.1 0zM1074.7 506.9a4.55 4.55 0 1 0 9.1 0a4.55 4.55 0 1 0 -9.1 0zM1079.8 454.9a4.55 4.55 0 1 0 9.1 0a4.55 4.55 0 1 0 -9.1 0zM1084.8 409a4.55 4.55 0 1 0 9.1 0a4.55 4.55 0 1 0 -9.1 0zM1089.9 369.5a4.55 4.55 0 1 0 9.1 0a4.55 4.55 0 1 0 -9.1 0zM1095 335.6a4.55 4.55 0 1 0 9.1 0a4.55 4.55 0 1 0 -9.1 0zM1100.1 306.8a4.55 4.55 0 1 0 9.1 0a4.55 4.55 0 1 0 -9.1 0zM1105.1 282.5a4.55 4.55 0 1 0 9.1 0a4.55 4.55 0 1 0 -9.1 0zM1110.2 262.5a4.55 4.55 0 1 0 9.1 0a4.55 4.55 0 1 0 -9.1 0zM1115.3 245.1a4.55 4.55 0 1 0 9.1 0a4.55 4.55 0 1 0 -9.1 0zM1120.4 230.8a4.55 4.55 0 1 0 9.1 0a4.55 4.55 0 1 0 -9.1 0zM1125.5 219.3a4.55 4.55 0 1 0 9.1 0a4.55 4.55 0 1 0 -9.1 0zM1130.5 208.9a4.55 4.55 0 1 0 9.1 0a4.55 4.55 0 1 0 -9.1 0zM1135.6 200.6a4.55 4.55 0 1 0 9.1 0a4.55 4.55 0 1 0 -9.1 0zM1140.7 193.2a4.55 4.55 0 1 0 9.1 0a4.55 4.55 0 1 0 -9.1 0zM1145.8 186.9a4.55 4.55 0 1 0 9.1 0a4.55 4.55 0 1 0 -9.1 0zM1150.8 181.4a4.55 4.55 0 1 0 9.1 0a4.55 4.55 0 1 0 -9.1 0zM1155.9 176.9a4.55 4.55 0 1 0 9.1 0a4.55 4.55 0 1 0 -9.1 0zM1161 173.1a4.55 4.55 0 1 0 9.1 0a4.55 4.55 0 1 0 -9.1 0zM1166.1 169.7a4.55 4.55 0 1 0 9.1 0a4.55 4.55 0 1 0 -9.1 0zM1171.2 166.6a4.55 4.55 0 1 0 9.1 0a4.55 4.55 0 1 0 -9.1 0zM1176.2 164a4.55 4.55 0 1 0 9.1 0a4.55 4.55 0 1 0 -9.1 0zM1181.3 161.7a4.55 4.55 0 1 0 9.1 0a4.55 4.55 0 1 0 -9.1 0zM1186.4 159.8a4.55 4.55 0 1 0 9.1 0a4.55 4.55 0 1 0 -9.1 0zM1191.5 158.2a4.55 4.55 0 1 0 9.1 0a4.55 4.55 0 1 0 -9.1 0zM1196.5 156.9a4.55 4.55 0 1 0 9.1 0a4.55 4.55 0 1 0 -9.1 0zM1201.6 155.7a4.55 4.55 0 1 0 9.1 0a4.55 4.55 0 1 0 -9.1 0zM1206.7 154.8a4.55 4.55 0 1 0 9.1 0a4.55 4.55 0 1 0 -9.1 0zM1211.8 153.9a4.55 4.55 0 1 0 9.1 0a4.55 4.55 0 1 0 -9.1 0zM1216.9 153.2a4.55 4.55 0 1 0 9.1 0a4.55 4.55 0 1 0 -9.1 0zM1221.9 152.3a4.55 4.55 0 1 0 9.1 0a4.55 4.55 0 1 0 -9.1 0zM1227 151.6a4.55 4.55 0 1 0 9.1 0a4.55 4.55 0 1 0 -9.1 0zM1232.1 151.1a4.55 4.55 0 1 0 9.1 0a4.55 4.55 0 1 0 -9.1 0zM1237.2 150.6a4.55 4.55 0 1 0 9.1 0a4.55 4.55 0 1 0 -9.1 0zM1242.3 150.2a4.55 4.55 0 1 0 9.1 0a4.55 4.55 0 1 0 -9.1 0zM1247.3 149.8a4.55 4.55 0 1 0 9.1 0a4.55 4.55 0 1 0 -9.1 0zM1252.4 149.4a4.55 4.55 0 1 0 9.1 0a4.55 4.55 0 1 0 -9.1 0zM1257.5 149.1a4.55 4.55 0 1 0 9.1 0a4.55 4.55 0 1 0 -9.1 0zM1262.6 148.8a4.55 4.55 0 1 0 9.1 0a4.55 4.55 0 1 0 -9.1 0zM1267.6 148.5a4.55 4.55 0 1 0 9.1 0a4.55 4.55 0 1 0 -9.1 0zM1272.7 148.2a4.55 4.55 0 1 0 9.1 0a4.55 4.55 0 1 0 -9.1 0zM1277.8 147.9a4.55 4.55 0 1 0 9.1 0a4.55 4.55 0 1 0 -9.1 0zM1282.9 147.7a4.55 4.55 0 1 0 9.1 0a4.55 4.55 0 1 0 -9.1 0zM1288 147.4a4.55 4.55 0 1 0 9.1 0a4.55 4.55 0 1 0 -9.1 0zM1293 147.2a4.55 4.55 0 1 0 9.1 0a4.55 4.55 0 1 0 -9.1 0zM1298.1 147a4.55 4.55 0 1 0 9.1 0a4.55 4.55 0 1 0 -9.1 0zM1303.2 146.8a4.55 4.55 0 1 0 9.1 0a4.55 4.55 0 1 0 -9.1 0zM1308.3 146.6a4.55 4.55 0 1 0 9.1 0a4.55 4.55 0 1 0 -9.1 0zM1313.3 146.4a4.55 4.55 0 1 0 9.1 0a4.55 4.55 0 1 0 -9.1 0zM1318.4 146.2a4.55 4.55 0 1 0 9.1 0a4.55 4.55 0 1 0 -9.1 0zM1323.5 146a4.55 4.55 0 1 0 9.1 0a4.55 4.55 0 1 0 -9.1 0zM1328.6 145.8a4.55 4.55 0 1 0 9.1 0a4.55 4.55 0 1 0 -9.1 0zM1333.7 145.6a4.55 4.55 0 1 0 9.1 0a4.55 4.55 0 1 0 -9.1 0zM1338.7 145.4a4.55 4.55 0 1 0 9.1 0a4.55 4.55 0 1 0 -9.1 0zM1343.8 145.2a4.55 4.55 0 1 0 9.1 0a4.55 4.55 0 1 0 -9.1 0zM1348.9 145a4.55 4.55 0 1 0 9.1 0a4.55 4.55 0 1 0 -9.1 0zM1354 144.8a4.55 4.55 0 1 0 9.1 0a4.55 4.55 0 1 0 -9.1 0zM1359 144.7a4.55 4.55 0 1 0 9.1 0a4.55 4.55 0 1 0 -9.1 0zM1364.1 144.5a4.55 4.55 0 1 0 9.1 0a4.55 4.55 0 1 0 -9.1 0zM1369.2 144.3a4.55 4.55 0 1 0 9.1 0a4.55 4.55 0 1 0 -9.1 0zM1374.3 144.1a4.55 4.55 0 1 0 9.1 0a4.55 4.55 0 1 0 -9.1 0zM1379.4 144a4.55 4.55 0 1 0 9.1 0a4.55 4.55 0 1 0 -9.1 0zM1384.4 143.8a4.55 4.55 0 1 0 9.1 0a4.55 4.55 0 1 0 -9.1 0zM1389.5 143.6a4.55 4.55 0 1 0 9.1 0a4.55 4.55 0 1 0 -9.1 0zM1394.6 143.4a4.55 4.55 0 1 0 9.1 0a4.55 4.55 0 1 0 -9.1 0zM1399.7 143.3a4.55 4.55 0 1 0 9.1 0a4.55 4.55 0 1 0 -9.1 0zM1404.7 143.1a4.55 4.55 0 1 0 9.1 0a4.55 4.55 0 1 0 -9.1 0zM1409.8 142.9a4.55 4.55 0 1 0 9.1 0a4.55 4.55 0 1 0 -9.1 0zM1414.9 142.7a4.55 4.55 0 1 0 9.1 0a4.55 4.55 0 1 0 -9.1 0zM1420 142.6a4.55 4.55 0 1 0 9.1 0a4.55 4.55 0 1 0 -9.1 0zM1425.1 142.4a4.55 4.55 0 1 0 9.1 0a4.55 4.55 0 1 0 -9.1 0zM1430.1 142.2a4.55 4.55 0 1 0 9.1 0a4.55 4.55 0 1 0 -9.1 0zM1435.2 142.1a4.55 4.55 0 1 0 9.1 0a4.55 4.55 0 1 0 -9.1 0zM1440.3 141.9a4.55 4.55 0 1 0 9.1 0a4.55 4.55 0 1 0 -9.1 0zM1445.4 141.8a4.55 4.55 0 1 0 9.1 0a4.55 4.55 0 1 0 -9.1 0zM1450.5 141.6a4.55 4.55 0 1 0 9.1 0a4.55 4.55 0 1 0 -9.1 0z" fill="#F14040"/>
<path d="M190.6 148.9L195.7 149.7L200.7 150.6L205.8 151.4L210.9 152.2L216 152.9L221 153.6L226.1 154.3L231.2 155L236.3 155.7L241.4 156.4L246.4 157.1L251.5 157.8L256.6 158.5L261.7 159.2L266.7 160L271.8 160.7L276.9 161.4L282 162.1L287.1 162.8L292.1 163.6L297.2 164.3L302.3 165L307.4 165.7L312.4 166.4L317.5 167.1L322.6 167.7L327.7 168.4L332.8 169.1L337.8 169.7L342.9 170.3L348 171L353.1 171.6L358.2 172.2L363.2 172.8L368.3 173.4L373.4 174L378.5 174.5L383.5 175.1L388.6 175.7L393.7 176.2L398.8 176.7L403.9 177.3L408.9 177.8L414 178.3L419.1 178.8L424.2 179.3L429.2 179.8L434.3 180.3L439.4 180.7L444.5 181.2L449.6 181.7L454.6 182.1L459.7 182.6L464.8 183L469.9 183.5L474.9 184L480 184.4L485.1 184.9L490.2 185.4L495.3 185.9L500.3 186.4L505.4 186.8L510.5 187.3L515.6 187.8L520.6 188.3L525.7 188.8L530.8 189.3L535.9 189.8L541 190.3L546 190.8L551.1 191.3L556.2 191.8L561.3 192.3L566.4 192.8L571.4 193.3L576.5 193.8L581.6 194.2L586.7 194.7L591.7 195.2L596.8 195.7L601.9 196.1L607 196.6L612.1 197.1L617.1 197.6L622.2 198.1L627.3 198.6L632.4 199.1L637.4 199.6L642.5 200.2L647.6 200.7L652.7 201.3L657.8 201.9L662.8 202.5L667.9 203.1L673 203.8L678.1 204.4L683.1 205L688.2 205.7L693.3 206.3L698.4 206.9L703.5 207.6L708.5 208.2L713.6 208.8L718.7 209.4L723.8 209.9L728.8 210.4L733.9 210.9L739 211.4L744.1 211.9L749.2 212.4L754.2 212.9L759.3 213.5L764.4 214.1L769.5 214.8L774.5 215.6L779.6 216.5L784.7 217.6L789.8 218.6L794.9 219.8L799.9 221L805 222.2L810.1 223.6L815.2 225L820.2 226.5L825.3 228L830.4 229.7L835.5 231.4L840.6 233.3L845.6 235.2L850.7 237.3L855.8 239.5L860.9 241.8L866 244.3L871 247L876.1 249.9L881.2 252.8L886.3 255.7L891.3 258.5L896.4 261.4L901.5 265.6L906.6 270.2L911.7 275L916.7 280.3L921.8 286.3L926.9 293L932 301.1L937 309.2L942.1 318L947.2 330.4L952.3 342.3L957.4 356L962.4 373.8L967.5 392.2L972.6 412.8L977.7 436.5L982.7 465.8L987.8 497.4L992.9 531.7L998 568.3L1003.1 606.2L1008.1 641L1013.2 668.7L1018.3 683.8L1023.4 679.8L1028.4 654.5L1033.5 612.6L1038.6 558L1043.7 501.4L1048.8 444.4L1053.8 393.5L1058.9 351L1064 317.1L1069.1 286.6L1074.2 262.3L1079.2 243.1L1084.3 227.5L1089.4 214.4L1094.5 203L1099.5 193.5L1104.6 187.4L1109.7 181.3L1114.8 176.6L1119.9 172.2L1124.9 168.6L1130 166L1135.1 163.3L1140.2 161.1L1145.2 159.5L1150.3 158.1L1155.4 156.7L1160.5 155.5L1165.6 154.6L1170.6 153.7L1175.7 153L1180.8 152.6L1185.9 152.2L1190.9 151.7L1196 151.2L1201.1 150.7L1206.2 150.3L1211.3 149.9L1216.3 149.4L1221.4 149L1226.5 148.6L1231.6 148.3L1236.6 148L1241.7 147.7L1246.8 147.4L1251.9 147.1L1257 146.8L1262 146.5L1267.1 146.3L1272.2 146L1277.3 145.7L1282.3 145.5L1287.4 145.2L1292.5 145L1297.6 144.7L1302.7 144.5L1307.7 144.2L1312.8 144L1317.9 143.8L1323 143.5L1328 143.3L1333.1 143.1L1338.2 142.9L1343.3 142.6L1348.4 142.4L1353.4 142.2L1358.5 142L1363.6 141.7L1368.7 141.5L1373.8 141.3L1378.8 141L1383.9 140.8L1389 140.5L1394.1 140.3L1399.1 140.1L1404.2 139.8L1409.3 139.5L1414.4 139.3L1419.5 139L1424.5 138.7L1429.6 138.4L1434.7 138.2L1439.8 137.9L1444.8 137.6L1449.9 137.3L1455 137" fill="none" stroke="#1A6FDF" stroke-width="4" stroke-linejoin="round"/>
<path d="M190.6 143.8l5.2 9.2h-10.4zM195.7 144.6l5.2 9.2h-10.4zM200.7 145.5l5.2 9.2h-10.4zM205.8 146.3l5.2 9.2h-10.4zM210.9 147.1l5.2 9.2h-10.4zM216 147.8l5.2 9.2h-10.4zM221 148.5l5.2 9.2h-10.4zM226.1 149.2l5.2 9.2h-10.4zM231.2 149.9l5.2 9.2h-10.4zM236.3 150.6l5.2 9.2h-10.4zM241.4 151.3l5.2 9.2h-10.4zM246.4 152l5.2 9.2h-10.4zM251.5 152.7l5.2 9.2h-10.4zM256.6 153.4l5.2 9.2h-10.4zM261.7 154.1l5.2 9.2h-10.4zM266.7 154.9l5.2 9.2h-10.4zM271.8 155.6l5.2 9.2h-10.4zM276.9 156.3l5.2 9.2h-10.4zM282 157l5.2 9.2h-10.4zM287.1 157.7l5.2 9.2h-10.4zM292.1 158.5l5.2 9.2h-10.4zM297.2 159.2l5.2 9.2h-10.4zM302.3 159.9l5.2 9.2h-10.4zM307.4 160.6l5.2 9.2h-10.4zM312.4 161.3l5.2 9.2h-10.4zM317.5 162l5.2 9.2h-10.4zM322.6 162.6l5.2 9.2h-10.4zM327.7 163.3l5.2 9.2h-10.4zM332.8 164l5.2 9.2h-10.4zM337.8 164.6l5.2 9.2h-10.4zM342.9 165.2l5.2 9.2h-10.4zM348 165.9l5.2 9.2h-10.4zM353.1 166.5l5.2 9.2h-10.4zM358.2 167.1l5.2 9.2h-10.4zM363.2 167.7l5.2 9.2h-10.4zM368.3 168.3l5.2 9.2h-10.4zM373.4 168.9l5.2 9.2h-10.4zM378.5 169.4l5.2 9.2h-10.4zM383.5 170l5.2 9.2h-10.4zM388.6 170.6l5.2 9.2h-10.4zM393.7 171.1l5.2 9.2h-10.4zM398.8 171.6l5.2 9.2h-10.4zM403.9 172.2l5.2 9.2h-10.4zM408.9 172.7l5.2 9.2h-10.4zM414 173.2l5.2 9.2h-10.4zM419.1 173.7l5.2 9.2h-10.4zM424.2 174.2l5.2 9.2h-10.4zM429.2 174.7l5.2 9.2h-10.4zM434.3 175.2l5.2 9.2h-10.4zM439.4 175.6l5.2 9.2h-10.4zM444.5 176.1l5.2 9.2h-10.4zM449.6 176.6l5.2 9.2h-10.4zM454.6 177l5.2 9.2h-10.4zM459.7 177.5l5.2 9.2h-10.4zM464.8 177.9l5.2 9.2h-10.4zM469.9 178.4l5.2 9.2h-10.4zM474.9 178.9l5.2 9.2h-10.4zM480 179.3l5.2 9.2h-10.4zM485.1 179.8l5.2 9.2h-10.4zM490.2 180.3l5.2 9.2h-10.4zM495.3 180.8l5.2 9.2h-10.4zM500.3 181.3l5.2 9.2h-10.4zM505.4 181.7l5.2 9.2h-10.4zM510.5 182.2l5.2 9.2h-10.4zM515.6 182.7l5.2 9.2h-10.4zM520.6 183.2l5.2 9.2h-10.4zM525.7 183.7l5.2 9.2h-10.4zM530.8 184.2l5.2 9.2h-10.4zM535.9 184.7l5.2 9.2h-10.4zM541 185.2l5.2 9.2h-10.4zM546 185.7l5.2 9.2h-10.4zM551.1 186.2l5.2 9.2h-10.4zM556.2 186.7l5.2 9.2h-10.4zM561.3 187.2l5.2 9.2h-10.4zM566.4 187.7l5.2 9.2h-10.4zM571.4 188.2l5.2 9.2h-10.4zM576.5 188.7l5.2 9.2h-10.4zM581.6 189.1l5.2 9.2h-10.4zM586.7 189.6l5.2 9.2h-10.4zM591.7 190.1l5.2 9.2h-10.4zM596.8 190.6l5.2 9.2h-10.4zM601.9 191l5.2 9.2h-10.4zM607 191.5l5.2 9.2h-10.4zM612.1 192l5.2 9.2h-10.4zM617.1 192.5l5.2 9.2h-10.4zM622.2 193l5.2 9.2h-10.4zM627.3 193.5l5.2 9.2h-10.4zM632.4 194l5.2 9.2h-10.4zM637.4 194.5l5.2 9.2h-10.4zM642.5 195.1l5.2 9.2h-10.4zM647.6 195.6l5.2 9.2h-10.4zM652.7 196.2l5.2 9.2h-10.4zM657.8 196.8l5.2 9.2h-10.4zM662.8 197.4l5.2 9.2h-10.4zM667.9 198l5.2 9.2h-10.4zM673 198.7l5.2 9.2h-10.4zM678.1 199.3l5.2 9.2h-10.4zM683.1 199.9l5.2 9.2h-10.4zM688.2 200.6l5.2 9.2h-10.4zM693.3 201.2l5.2 9.2h-10.4zM698.4 201.8l5.2 9.2h-10.4zM703.5 202.5l5.2 9.2h-10.4zM708.5 203.1l5.2 9.2h-10.4zM713.6 203.7l5.2 9.2h-10.4zM718.7 204.3l5.2 9.2h-10.4zM723.8 204.8l5.2 9.2h-10.4zM728.8 205.3l5.2 9.2h-10.4zM733.9 205.8l5.2 9.2h-10.4zM739 206.3l5.2 9.2h-10.4zM744.1 206.8l5.2 9.2h-10.4zM749.2 207.3l5.2 9.2h-10.4zM754.2 207.8l5.2 9.2h-10.4zM759.3 208.4l5.2 9.2h-10.4zM764.4 209l5.2 9.2h-10.4zM769.5 209.7l5.2 9.2h-10.4zM774.5 210.5l5.2 9.2h-10.4zM779.6 211.4l5.2 9.2h-10.4zM784.7 212.5l5.2 9.2h-10.4zM789.8 213.5l5.2 9.2h-10.4zM794.9 214.7l5.2 9.2h-10.4zM799.9 215.9l5.2 9.2h-10.4zM805 217.1l5.2 9.2h-10.4zM810.1 218.5l5.2 9.2h-10.4zM815.2 219.9l5.2 9.2h-10.4zM820.2 221.4l5.2 9.2h-10.4zM825.3 222.9l5.2 9.2h-10.4zM830.4 224.6l5.2 9.2h-10.4zM835.5 226.3l5.2 9.2h-10.4zM840.6 228.2l5.2 9.2h-10.4zM845.6 230.1l5.2 9.2h-10.4zM850.7 232.2l5.2 9.2h-10.4zM855.8 234.4l5.2 9.2h-10.4zM860.9 236.7l5.2 9.2h-10.4zM866 239.2l5.2 9.2h-10.4zM871 241.9l5.2 9.2h-10.4zM876.1 244.8l5.2 9.2h-10.4zM881.2 247.7l5.2 9.2h-10.4zM886.3 250.6l5.2 9.2h-10.4zM891.3 253.4l5.2 9.2h-10.4zM896.4 256.3l5.2 9.2h-10.4zM901.5 260.5l5.2 9.2h-10.4zM906.6 265.1l5.2 9.2h-10.4zM911.7 269.9l5.2 9.2h-10.4zM916.7 275.2l5.2 9.2h-10.4zM921.8 281.2l5.2 9.2h-10.4zM926.9 287.9l5.2 9.2h-10.4zM932 296l5.2 9.2h-10.4zM937 304.1l5.2 9.2h-10.4zM942.1 312.9l5.2 9.2h-10.4zM947.2 325.3l5.2 9.2h-10.4zM952.3 337.2l5.2 9.2h-10.4zM957.4 350.9l5.2 9.2h-10.4zM962.4 368.7l5.2 9.2h-10.4zM967.5 387.1l5.2 9.2h-10.4zM972.6 407.7l5.2 9.2h-10.4zM977.7 431.4l5.2 9.2h-10.4zM982.7 460.7l5.2 9.2h-10.4zM987.8 492.3l5.2 9.2h-10.4zM992.9 526.6l5.2 9.2h-10.4zM998 563.2l5.2 9.2h-10.4zM1003.1 601.1l5.2 9.2h-10.4zM1008.1 635.9l5.2 9.2h-10.4zM1013.2 663.6l5.2 9.2h-10.4zM1018.3 678.7l5.2 9.2h-10.4zM1023.4 674.7l5.2 9.2h-10.4zM1028.4 649.4l5.2 9.2h-10.4zM1033.5 607.5l5.2 9.2h-10.4zM1038.6 552.9l5.2 9.2h-10.4zM1043.7 496.3l5.2 9.2h-10.4zM1048.8 439.3l5.2 9.2h-10.4zM1053.8 388.4l5.2 9.2h-10.4zM1058.9 345.9l5.2 9.2h-10.4zM1064 312l5.2 9.2h-10.4zM1069.1 281.5l5.2 9.2h-10.4zM1074.2 257.2l5.2 9.2h-10.4zM1079.2 238l5.2 9.2h-10.4zM1084.3 222.4l5.2 9.2h-10.4zM1089.4 209.3l5.2 9.2h-10.4zM1094.5 197.9l5.2 9.2h-10.4zM1099.5 188.4l5.2 9.2h-10.4zM1104.6 182.3l5.2 9.2h-10.4zM1109.7 176.2l5.2 9.2h-10.4zM1114.8 171.5l5.2 9.2h-10.4zM1119.9 167.1l5.2 9.2h-10.4zM1124.9 163.5l5.2 9.2h-10.4zM1130 160.9l5.2 9.2h-10.4zM1135.1 158.2l5.2 9.2h-10.4zM1140.2 156l5.2 9.2h-10.4zM1145.2 154.4l5.2 9.2h-10.4zM1150.3 153l5.2 9.2h-10.4zM1155.4 151.6l5.2 9.2h-10.4zM1160.5 150.4l5.2 9.2h-10.4zM1165.6 149.5l5.2 9.2h-10.4zM1170.6 148.6l5.2 9.2h-10.4zM1175.7 147.9l5.2 9.2h-10.4zM1180.8 147.5l5.2 9.2h-10.4zM1185.9 147.1l5.2 9.2h-10.4zM1190.9 146.6l5.2 9.2h-10.4zM1196 146.1l5.2 9.2h-10.4zM1201.1 145.6l5.2 9.2h-10.4zM1206.2 145.2l5.2 9.2h-10.4zM1211.3 144.8l5.2 9.2h-10.4zM1216.3 144.3l5.2 9.2h-10.4zM1221.4 143.9l5.2 9.2h-10.4zM1226.5 143.5l5.2 9.2h-10.4zM1231.6 143.2l5.2 9.2h-10.4zM1236.6 142.9l5.2 9.2h-10.4zM1241.7 142.6l5.2 9.2h-10.4zM1246.8 142.3l5.2 9.2h-10.4zM1251.9 142l5.2 9.2h-10.4zM1257 141.7l5.2 9.2h-10.4zM1262 141.4l5.2 9.2h-10.4zM1267.1 141.2l5.2 9.2h-10.4zM1272.2 140.9l5.2 9.2h-10.4zM1277.3 140.6l5.2 9.2h-10.4zM1282.3 140.4l5.2 9.2h-10.4zM1287.4 140.1l5.2 9.2h-10.4zM1292.5 139.9l5.2 9.2h-10.4zM1297.6 139.6l5.2 9.2h-10.4zM1302.7 139.4l5.2 9.2h-10.4zM1307.7 139.1l5.2 9.2h-10.4zM1312.8 138.9l5.2 9.2h-10.4zM1317.9 138.7l5.2 9.2h-10.4zM1323 138.4l5.2 9.2h-10.4zM1328 138.2l5.2 9.2h-10.4zM1333.1 138l5.2 9.2h-10.4zM1338.2 137.8l5.2 9.2h-10.4zM1343.3 137.5l5.2 9.2h-10.4zM1348.4 137.3l5.2 9.2h-10.4zM1353.4 137.1l5.2 9.2h-10.4zM1358.5 136.9l5.2 9.2h-10.4zM1363.6 136.6l5.2 9.2h-10.4zM1368.7 136.4l5.2 9.2h-10.4zM1373.8 136.2l5.2 9.2h-10.4zM1378.8 135.9l5.2 9.2h-10.4zM1383.9 135.7l5.2 9.2h-10.4zM1389 135.4l5.2 9.2h-10.4zM1394.1 135.2l5.2 9.2h-10.4zM1399.1 135l5.2 9.2h-10.4zM1404.2 134.7l5.2 9.2h-10.4zM1409.3 134.4l5.2 9.2h-10.4zM1414.4 134.2l5.2 9.2h-10.4zM1419.5 133.9l5.2 9.2h-10.4zM1424.5 133.6l5.2 9.2h-10.4zM1429.6 133.3l5.2 9.2h-10.4zM1434.7 133.1l5.2 9.2h-10.4zM1439.8 132.8l5.2 9.2h-10.4zM1444.8 132.5l5.2 9.2h-10.4zM1449.9 132.2l5.2 9.2h-10.4zM1455 131.9l5.2 9.2h-10.4z" fill="#1A6FDF"/>
<path d="M190.6 143.4L195.7 143.9L200.7 144.4L205.8 145L210.9 145.5L216 146.1L221 146.7L226.1 147.4L231.2 148L236.3 148.6L241.4 149.3L246.4 149.9L251.5 150.5L256.6 151.1L261.7 151.8L266.7 152.4L271.8 153L276.9 153.6L282 154.3L287.1 154.9L292.1 155.6L297.2 156.2L302.3 156.8L307.4 157.4L312.4 158.1L317.5 158.7L322.6 159.3L327.7 159.9L332.8 160.5L337.8 161.1L342.9 161.7L348 162.2L353.1 162.8L358.2 163.4L363.2 163.9L368.3 164.5L373.4 165L378.5 165.6L383.5 166.1L388.6 166.7L393.7 167.2L398.8 167.7L403.9 168.2L408.9 168.7L414 169.2L419.1 169.7L424.2 170.1L429.2 170.6L434.3 171.1L439.4 171.5L444.5 172L449.6 172.4L454.6 172.8L459.7 173.3L464.8 173.7L469.9 174.1L474.9 174.6L480 175L485.1 175.4L490.2 175.8L495.3 176.2L500.3 176.6L505.4 177L510.5 177.4L515.6 177.8L520.6 178.2L525.7 178.5L530.8 178.9L535.9 179.2L541 179.6L546 179.9L551.1 180.3L556.2 180.6L561.3 181L566.4 181.3L571.4 181.7L576.5 182L581.6 182.4L586.7 182.7L591.7 183.1L596.8 183.4L601.9 183.8L607 184.1L612.1 184.4L617.1 184.8L622.2 185.1L627.3 185.5L632.4 185.9L637.4 186.2L642.5 186.6L647.6 186.9L652.7 187.3L657.8 187.7L662.8 188L667.9 188.4L673 188.8L678.1 189.1L683.1 189.5L688.2 189.9L693.3 190.3L698.4 190.7L703.5 191.1L708.5 191.5L713.6 191.9L718.7 192.4L723.8 192.9L728.8 193.3L733.9 193.8L739 194.4L744.1 194.9L749.2 195.4L754.2 196L759.3 196.6L764.4 197.2L769.5 197.8L774.5 198.5L779.6 199.2L784.7 200L789.8 200.7L794.9 201.5L799.9 202.2L805 202.9L810.1 203.5L815.2 204.1L820.2 204.7L825.3 205.5L830.4 206.3L835.5 207.3L840.6 208.4L845.6 209.7L850.7 211.1L855.8 212.6L860.9 214.2L866 215.9L871 217.7L876.1 219.7L881.2 221.9L886.3 224.3L891.3 227L896.4 230.5L901.5 234L906.6 237.4L911.7 241.7L916.7 246.2L921.8 251.4L926.9 257.4L932 264.5L937 272.1L942.1 280.9L947.2 291.7L952.3 303.6L957.4 316.9L962.4 334.9L967.5 353.7L972.6 376.5L977.7 403.3L982.7 433.4L987.8 466.6L992.9 500.6L998 530.1L1003.1 550.9L1008.1 554L1013.2 535.2L1018.3 501.4L1023.4 453.1L1028.4 403.6L1033.5 356.7L1038.6 317.1L1043.7 284.9L1048.8 258.8L1053.8 237.6L1058.9 221.4L1064 208L1069.1 198.4L1074.2 189.6L1079.2 183L1084.3 177.5L1089.4 173.3L1094.5 170L1099.5 167.5L1104.6 165.4L1109.7 163L1114.8 161.4L1119.9 160L1124.9 158.8L1130 157.8L1135.1 156.8L1140.2 155.8L1145.2 155.2L1150.3 154.6L1155.4 153.8L1160.5 153.2L1165.6 152.7L1170.6 152.3L1175.7 151.9L1180.8 151.6L1185.9 151.3L1190.9 151L1196 150.5L1201.1 149.9L1206.2 149.5L1211.3 149.3L1216.3 149L1221.4 148.7L1226.5 148.3L1231.6 147.9L1236.6 147.6L1241.7 147.4L1246.8 147.2L1251.9 147L1257 146.9L1262 146.7L1267.1 146.5L1272.2 146.3L1277.3 146L1282.3 145.7L1287.4 145.4L1292.5 145.1L1297.6 144.8L1302.7 144.5L1307.7 144.2L1312.8 143.9L1317.9 143.6L1323 143.3L1328 143L1333.1 142.7L1338.2 142.4L1343.3 142.1L1348.4 141.8L1353.4 141.5L1358.5 141.2L1363.6 140.9L1368.7 140.7L1373.8 140.4L1378.8 140.1L1383.9 139.8L1389 139.5L1394.1 139.2L1399.1 139L1404.2 138.7L1409.3 138.4L1414.4 138.1L1419.5 137.8L1424.5 137.6L1429.6 137.3L1434.7 137L1439.8 136.7L1444.8 136.4L1449.9 136.2L1455 135.9" fill="none" stroke="#37AD6B" stroke-width="4" stroke-linejoin="round"/>
<path d="M190.6 149.9l-5.2 -9.2h10.4zM195.7 150.4l-5.2 -9.2h10.4zM200.7 150.9l-5.2 -9.2h10.4zM205.8 151.5l-5.2 -9.2h10.4zM210.9 152l-5.2 -9.2h10.4zM216 152.6l-5.2 -9.2h10.4zM221 153.2l-5.2 -9.2h10.4zM226.1 153.9l-5.2 -9.2h10.4zM231.2 154.5l-5.2 -9.2h10.4zM236.3 155.1l-5.2 -9.2h10.4zM241.4 155.8l-5.2 -9.2h10.4zM246.4 156.4l-5.2 -9.2h10.4zM251.5 157l-5.2 -9.2h10.4zM256.6 157.6l-5.2 -9.2h10.4zM261.7 158.3l-5.2 -9.2h10.4zM266.7 158.9l-5.2 -9.2h10.4zM271.8 159.5l-5.2 -9.2h10.4zM276.9 160.1l-5.2 -9.2h10.4zM282 160.8l-5.2 -9.2h10.4zM287.1 161.4l-5.2 -9.2h10.4zM292.1 162.1l-5.2 -9.2h10.4zM297.2 162.7l-5.2 -9.2h10.4zM302.3 163.3l-5.2 -9.2h10.4zM307.4 163.9l-5.2 -9.2h10.4zM312.4 164.6l-5.2 -9.2h10.4zM317.5 165.2l-5.2 -9.2h10.4zM322.6 165.8l-5.2 -9.2h10.4zM327.7 166.4l-5.2 -9.2h10.4zM332.8 167l-5.2 -9.2h10.4zM337.8 167.6l-5.2 -9.2h10.4zM342.9 168.2l-5.2 -9.2h10.4zM348 168.7l-5.2 -9.2h10.4zM353.1 169.3l-5.2 -9.2h10.4zM358.2 169.9l-5.2 -9.2h10.4zM363.2 170.4l-5.2 -9.2h10.4zM368.3 171l-5.2 -9.2h10.4zM373.4 171.5l-5.2 -9.2h10.4zM378.5 172.1l-5.2 -9.2h10.4zM383.5 172.6l-5.2 -9.2h10.4zM388.6 173.2l-5.2 -9.2h10.4zM393.7 173.7l-5.2 -9.2h10.4zM398.8 174.2l-5.2 -9.2h10.4zM403.9 174.7l-5.2 -9.2h10.4zM408.9 175.2l-5.2 -9.2h10.4zM414 175.7l-5.2 -9.2h10.4zM419.1 176.2l-5.2 -9.2h10.4zM424.2 176.6l-5.2 -9.2h10.4zM429.2 177.1l-5.2 -9.2h10.4zM434.3 177.6l-5.2 -9.2h10.4zM439.4 178l-5.2 -9.2h10.4zM444.5 178.5l-5.2 -9.2h10.4zM449.6 178.9l-5.2 -9.2h10.4zM454.6 179.3l-5.2 -9.2h10.4zM459.7 179.8l-5.2 -9.2h10.4zM464.8 180.2l-5.2 -9.2h10.4zM469.9 180.6l-5.2 -9.2h10.4zM474.9 181.1l-5.2 -9.2h10.4zM480 181.5l-5.2 -9.2h10.4zM485.1 181.9l-5.2 -9.2h10.4zM490.2 182.3l-5.2 -9.2h10.4zM495.3 182.7l-5.2 -9.2h10.4zM500.3 183.1l-5.2 -9.2h10.4zM505.4 183.5l-5.2 -9.2h10.4zM510.5 183.9l-5.2 -9.2h10.4zM515.6 184.3l-5.2 -9.2h10.4zM520.6 184.7l-5.2 -9.2h10.4zM525.7 185l-5.2 -9.2h10.4zM530.8 185.4l-5.2 -9.2h10.4zM535.9 185.7l-5.2 -9.2h10.4zM541 186.1l-5.2 -9.2h10.4zM546 186.4l-5.2 -9.2h10.4zM551.1 186.8l-5.2 -9.2h10.4zM556.2 187.1l-5.2 -9.2h10.4zM561.3 187.5l-5.2 -9.2h10.4zM566.4 187.8l-5.2 -9.2h10.4zM571.4 188.2l-5.2 -9.2h10.4zM576.5 188.5l-5.2 -9.2h10.4zM581.6 188.9l-5.2 -9.2h10.4zM586.7 189.2l-5.2 -9.2h10.4zM591.7 189.6l-5.2 -9.2h10.4zM596.8 189.9l-5.2 -9.2h10.4zM601.9 190.3l-5.2 -9.2h10.4zM607 190.6l-5.2 -9.2h10.4zM612.1 190.9l-5.2 -9.2h10.4zM617.1 191.3l-5.2 -9.2h10.4zM622.2 191.6l-5.2 -9.2h10.4zM627.3 192l-5.2 -9.2h10.4zM632.4 192.4l-5.2 -9.2h10.4zM637.4 192.7l-5.2 -9.2h10.4zM642.5 193.1l-5.2 -9.2h10.4zM647.6 193.4l-5.2 -9.2h10.4zM652.7 193.8l-5.2 -9.2h10.4zM657.8 194.2l-5.2 -9.2h10.4zM662.8 194.5l-5.2 -9.2h10.4zM667.9 194.9l-5.2 -9.2h10.4zM673 195.3l-5.2 -9.2h10.4zM678.1 195.6l-5.2 -9.2h10.4zM683.1 196l-5.2 -9.2h10.4zM688.2 196.4l-5.2 -9.2h10.4zM693.3 196.8l-5.2 -9.2h10.4zM698.4 197.2l-5.2 -9.2h10.4zM703.5 197.6l-5.2 -9.2h10.4zM708.5 198l-5.2 -9.2h10.4zM713.6 198.4l-5.2 -9.2h10.4zM718.7 198.9l-5.2 -9.2h10.4zM723.8 199.4l-5.2 -9.2h10.4zM728.8 199.8l-5.2 -9.2h10.4zM733.9 200.3l-5.2 -9.2h10.4zM739 200.9l-5.2 -9.2h10.4zM744.1 201.4l-5.2 -9.2h10.4zM749.2 201.9l-5.2 -9.2h10.4zM754.2 202.5l-5.2 -9.2h10.4zM759.3 203.1l-5.2 -9.2h10.4zM764.4 203.7l-5.2 -9.2h10.4zM769.5 204.3l-5.2 -9.2h10.4zM774.5 205l-5.2 -9.2h10.4zM779.6 205.7l-5.2 -9.2h10.4zM784.7 206.5l-5.2 -9.2h10.4zM789.8 207.2l-5.2 -9.2h10.4zM794.9 208l-5.2 -9.2h10.4zM799.9 208.7l-5.2 -9.2h10.4zM805 209.4l-5.2 -9.2h10.4zM810.1 210l-5.2 -9.2h10.4zM815.2 210.6l-5.2 -9.2h10.4zM820.2 211.2l-5.2 -9.2h10.4zM825.3 212l-5.2 -9.2h10.4zM830.4 212.8l-5.2 -9.2h10.4zM835.5 213.8l-5.2 -9.2h10.4zM840.6 214.9l-5.2 -9.2h10.4zM845.6 216.2l-5.2 -9.2h10.4zM850.7 217.6l-5.2 -9.2h10.4zM855.8 219.1l-5.2 -9.2h10.4zM860.9 220.7l-5.2 -9.2h10.4zM866 222.4l-5.2 -9.2h10.4zM871 224.2l-5.2 -9.2h10.4zM876.1 226.2l-5.2 -9.2h10.4zM881.2 228.4l-5.2 -9.2h10.4zM886.3 230.8l-5.2 -9.2h10.4zM891.3 233.5l-5.2 -9.2h10.4zM896.4 237l-5.2 -9.2h10.4zM901.5 240.5l-5.2 -9.2h10.4zM906.6 243.9l-5.2 -9.2h10.4zM911.7 248.2l-5.2 -9.2h10.4zM916.7 252.7l-5.2 -9.2h10.4zM921.8 257.9l-5.2 -9.2h10.4zM926.9 263.9l-5.2 -9.2h10.4zM932 271l-5.2 -9.2h10.4zM937 278.6l-5.2 -9.2h10.4zM942.1 287.4l-5.2 -9.2h10.4zM947.2 298.2l-5.2 -9.2h10.4zM952.3 310.1l-5.2 -9.2h10.4zM957.4 323.4l-5.2 -9.2h10.4zM962.4 341.4l-5.2 -9.2h10.4zM967.5 360.2l-5.2 -9.2h10.4zM972.6 383l-5.2 -9.2h10.4zM977.7 409.8l-5.2 -9.2h10.4zM982.7 439.9l-5.2 -9.2h10.4zM987.8 473.1l-5.2 -9.2h10.4zM992.9 507.1l-5.2 -9.2h10.4zM998 536.6l-5.2 -9.2h10.4zM1003.1 557.4l-5.2 -9.2h10.4zM1008.1 560.5l-5.2 -9.2h10.4zM1013.2 541.7l-5.2 -9.2h10.4zM1018.3 507.9l-5.2 -9.2h10.4zM1023.4 459.6l-5.2 -9.2h10.4zM1028.4 410.1l-5.2 -9.2h10.4zM1033.5 363.2l-5.2 -9.2h10.4zM1038.6 323.6l-5.2 -9.2h10.4zM1043.7 291.4l-5.2 -9.2h10.4zM1048.8 265.3l-5.2 -9.2h10.4zM1053.8 244.1l-5.2 -9.2h10.4zM1058.9 227.9l-5.2 -9.2h10.4zM1064 214.5l-5.2 -9.2h10.4zM1069.1 204.9l-5.2 -9.2h10.4zM1074.2 196.1l-5.2 -9.2h10.4zM1079.2 189.5l-5.2 -9.2h10.4zM1084.3 184l-5.2 -9.2h10.4zM1089.4 179.8l-5.2 -9.2h10.4zM1094.5 176.5l-5.2 -9.2h10.4zM1099.5 174l-5.2 -9.2h10.4zM1104.6 171.9l-5.2 -9.2h10.4zM1109.7 169.5l-5.2 -9.2h10.4zM1114.8 167.9l-5.2 -9.2h10.4zM1119.9 166.5l-5.2 -9.2h10.4zM1124.9 165.3l-5.2 -9.2h10.4zM1130 164.3l-5.2 -9.2h10.4zM1135.1 163.3l-5.2 -9.2h10.4zM1140.2 162.3l-5.2 -9.2h10.4zM1145.2 161.7l-5.2 -9.2h10.4zM1150.3 161.1l-5.2 -9.2h10.4zM1155.4 160.3l-5.2 -9.2h10.4zM1160.5 159.7l-5.2 -9.2h10.4zM1165.6 159.2l-5.2 -9.2h10.4zM1170.6 158.8l-5.2 -9.2h10.4zM1175.7 158.4l-5.2 -9.2h10.4zM1180.8 158.1l-5.2 -9.2h10.4zM1185.9 157.8l-5.2 -9.2h10.4zM1190.9 157.5l-5.2 -9.2h10.4zM1196 157l-5.2 -9.2h10.4zM1201.1 156.4l-5.2 -9.2h10.4zM1206.2 156l-5.2 -9.2h10.4zM1211.3 155.8l-5.2 -9.2h10.4zM1216.3 155.5l-5.2 -9.2h10.4zM1221.4 155.2l-5.2 -9.2h10.4zM1226.5 154.8l-5.2 -9.2h10.4zM1231.6 154.4l-5.2 -9.2h10.4zM1236.6 154.1l-5.2 -9.2h10.4zM1241.7 153.9l-5.2 -9.2h10.4zM1246.8 153.7l-5.2 -9.2h10.4zM1251.9 153.5l-5.2 -9.2h10.4zM1257 153.4l-5.2 -9.2h10.4zM1262 153.2l-5.2 -9.2h10.4zM1267.1 153l-5.2 -9.2h10.4zM1272.2 152.8l-5.2 -9.2h10.4zM1277.3 152.5l-5.2 -9.2h10.4zM1282.3 152.2l-5.2 -9.2h10.4zM1287.4 151.9l-5.2 -9.2h10.4zM1292.5 151.6l-5.2 -9.2h10.4zM1297.6 151.3l-5.2 -9.2h10.4zM1302.7 151l-5.2 -9.2h10.4zM1307.7 150.7l-5.2 -9.2h10.4zM1312.8 150.4l-5.2 -9.2h10.4zM1317.9 150.1l-5.2 -9.2h10.4zM1323 149.8l-5.2 -9.2h10.4zM1328 149.5l-5.2 -9.2h10.4zM1333.1 149.2l-5.2 -9.2h10.4zM1338.2 148.9l-5.2 -9.2h10.4zM1343.3 148.6l-5.2 -9.2h10.4zM1348.4 148.3l-5.2 -9.2h10.4zM1353.4 148l-5.2 -9.2h10.4zM1358.5 147.7l-5.2 -9.2h10.4zM1363.6 147.4l-5.2 -9.2h10.4zM1368.7 147.2l-5.2 -9.2h10.4zM1373.8 146.9l-5.2 -9.2h10.4zM1378.8 146.6l-5.2 -9.2h10.4zM1383.9 146.3l-5.2 -9.2h10.4zM1389 146l-5.2 -9.2h10.4zM1394.1 145.7l-5.2 -9.2h10.4zM1399.1 145.5l-5.2 -9.2h10.4zM1404.2 145.2l-5.2 -9.2h10.4zM1409.3 144.9l-5.2 -9.2h10.4zM1414.4 144.6l-5.2 -9.2h10.4zM1419.5 144.3l-5.2 -9.2h10.4zM1424.5 144.1l-5.2 -9.2h10.4zM1429.6 143.8l-5.2 -9.2h10.4zM1434.7 143.5l-5.2 -9.2h10.4zM1439.8 143.2l-5.2 -9.2h10.4zM1444.8 142.9l-5.2 -9.2h10.4zM1449.9 142.7l-5.2 -9.2h10.4zM1455 142.4l-5.2 -9.2h10.4z" fill="#37AD6B"/>
</g>
<path d="M217.5 761.2H348.5" stroke="#515151" stroke-width="4" stroke-linecap="round" fill="none"/>
<path d="M279.2 757.8h7.6v7.6h-7.6z" fill="#515151"/>
<text transform="translate(364 780) scale(1 1.015)">g=10nm</text>
<path d="M217.5 832.2H348.5" stroke="#F14040" stroke-width="4" stroke-linecap="round" fill="none"/>
<path d="M278.4 832.4a4.55 4.55 0 1 0 9.1 0a4.55 4.55 0 1 0 -9.1 0z" fill="#F14040"/>
<text transform="translate(364 851) scale(1 1.015)">g=15nm</text>
<path d="M217.5 903.2H348.5" stroke="#1A6FDF" stroke-width="4" stroke-linecap="round" fill="none"/>
<path d="M283 898.1l5.2 9.2h-10.4z" fill="#1A6FDF"/>
<text transform="translate(364 922) scale(1 1.015)">g=20nm</text>
<path d="M217.5 974.3H348.5" stroke="#37AD6B" stroke-width="4" stroke-linecap="round" fill="none"/>
<path d="M283 980.8l-5.2 -9.2h10.4z" fill="#37AD6B"/>
<text transform="translate(364 993.1) scale(1 1.015)">g=25nm</text>
</svg>
</body></html>
